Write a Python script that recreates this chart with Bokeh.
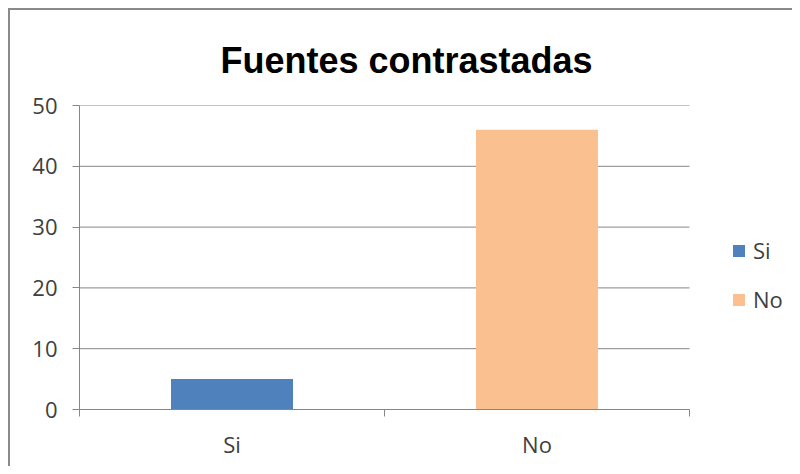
from bokeh.plotting import figure
from bokeh.models import (Range1d, LinearAxis, FixedTicker, Legend, LegendItem, ColumnDataSource)
from bokeh.embed import file_html
from bokeh.resources import INLINE

# ---- data ----
title_text = "Fuentes contrastadas"
categories = ["Si", "No"]
values = [5, 46]
colors = ["#4F81BD", "#FAC090"]
y_ticks = [0, 10, 20, 30, 40, 50]

GRID = "#868686"
LABEL = "#404040"
FONT = "Open Sans"

n = len(categories)
centers = [i + 0.5 for i in range(n)]   # category slot centres on a 0..n axis
bounds = list(range(n + 1))             # category slot boundaries

# layout: the plotting frame also hosts the legend to the right of the category area
W, H = 784, 458
LEFT, TOP, BOTTOM = 69, 95, 59
PLOT_PX = 610                           # pixel width of the category area
frame_w = W - LEFT
x_end = n * frame_w / PLOT_PX

p = figure(width=W, height=H, output_backend="svg", toolbar_location=None, tools="",
           x_range=Range1d(0, x_end), y_range=Range1d(0, y_ticks[-1]),
           x_axis_location=None, y_axis_location="left",
           min_border_left=LEFT, min_border_right=0, min_border_top=TOP, min_border_bottom=BOTTOM)
p.outline_line_color = None
p.background_fill_color = "white"
p.border_fill_color = "white"
p.styles = {"margin-left": "8px", "margin-top": "8px",
            "border-left": "2px solid #8a8a8a", "border-top": "2px solid #8a8a8a"}

# title
p.title.text = title_text
p.title.align = "left"
p.title.offset = 141
p.title.text_font = "Liberation Sans"
p.title.text_font_size = "36px"
p.title.text_font_style = "bold"
p.title.text_color = "black"
p.title.standoff = 50

# horizontal gridlines limited to the category area
p.ygrid.visible = False
p.xgrid.visible = False
gy = y_ticks[1:]
p.segment(x0=[0] * len(gy), x1=[n] * len(gy), y0=gy, y1=gy, line_color=GRID, line_width=1)

# bars
renderers = []
for x, v, col in zip(centers, values, colors):
    src = ColumnDataSource(dict(x=[x], val=[v]))
    r = p.vbar(x="x", top="val", width=0.4, fill_color=col, line_color=None, source=src)
    renderers.append(r)

# y axis
yax = p.yaxis[0]
yax.ticker = FixedTicker(ticks=y_ticks)
yax.axis_line_color = GRID
yax.major_tick_line_color = GRID
yax.major_tick_out = 7
yax.major_tick_in = 0
yax.minor_tick_line_color = None
yax.major_label_text_font = FONT
yax.major_label_text_font_size = "22px"
yax.major_label_text_color = LABEL
yax.major_label_standoff = 15

# x axis: boundary ticks
bax = LinearAxis(ticker=FixedTicker(ticks=bounds), bounds=(0, n))
bax.axis_line_color = GRID
bax.major_tick_line_color = GRID
bax.major_tick_out = 7
bax.major_tick_in = 0
bax.minor_tick_line_color = None
bax.major_label_text_font_size = "0px"
bax.major_label_standoff = 0
bax.major_label_overrides = {b: "" for b in bounds}
p.add_layout(bax, "below")

# x axis: category labels
cax = LinearAxis(ticker=FixedTicker(ticks=centers), bounds=(0, n))
cax.axis_line_color = None
cax.major_tick_line_color = None
cax.minor_tick_line_color = None
cax.major_label_overrides = {x: c for x, c in zip(centers, categories)}
cax.major_label_text_font = FONT
cax.major_label_text_font_size = "22px"
cax.major_label_text_color = LABEL
cax.major_label_standoff = 6
p.add_layout(cax, "below")

# legend
items = [LegendItem(label=c, renderers=[r]) for c, r in zip(categories, renderers)]
legend = Legend(items=items, location=(652, 95))
legend.background_fill_alpha = 0
legend.border_line_color = None
legend.padding = 0
legend.margin = 0
legend.glyph_width = 15
legend.glyph_height = 15
legend.label_height = 15
legend.label_standoff = 7
legend.spacing = 19
legend.label_text_font = FONT
legend.label_text_font_size = "22px"
legend.label_text_color = LABEL
p.add_layout(legend)

open("out.html", "w").write(file_html(p, INLINE))
